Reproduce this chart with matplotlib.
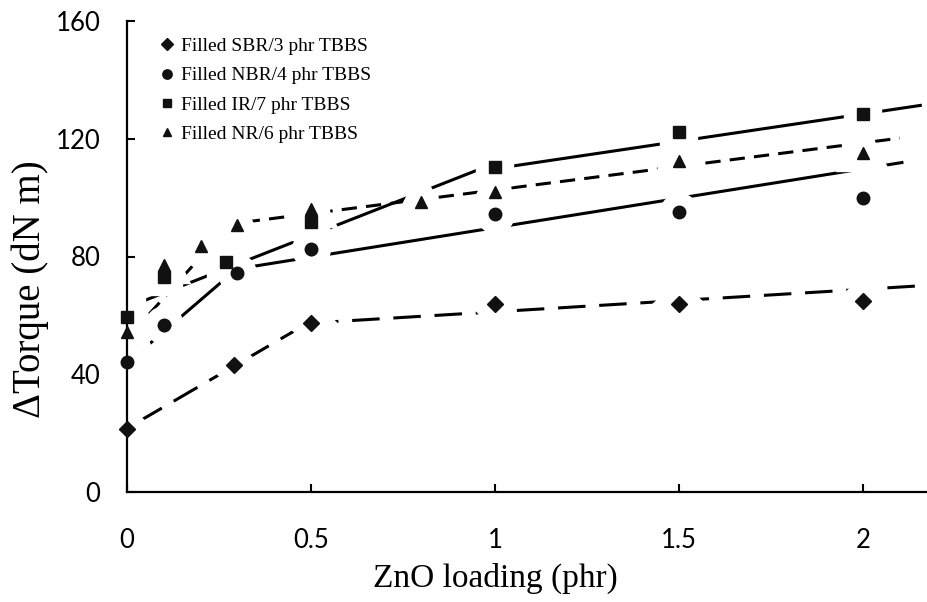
"""
Delta torque vs ZnO loading for four filled rubbers with TBBS.
Markers are measured points, lines are the two-part fits drawn in the paper.
Saves out.png
"""
import matplotlib
matplotlib.use('Agg')
import matplotlib.pyplot as plt

# measured points
sbr_x = [0, 0.29, 0.5, 1, 1.5, 2]
sbr_y = [21.5, 43, 57.5, 64, 64, 65]
nbr_x = [0, 0.1, 0.3, 0.5, 1, 1.5, 2]
nbr_y = [44, 56.7, 74.4, 82.5, 94.3, 95, 100]
ir_x = [0, 0.1, 0.27, 0.5, 1, 1.5, 2]
ir_y = [59.5, 73, 78, 91.7, 110.4, 122.3, 128.4]
nr_x = [0, 0.1, 0.2, 0.3, 0.5, 0.8, 1, 1.5, 2]
nr_y = [54.5, 77, 83.5, 90.8, 96, 98.6, 102, 112.5, 115]

# fitted line segments: (x0, x1), (y0, y1) for each piece
sbr_fit = [((0.03, 0.5), (23.8, 58)), ((0.5, 2.15), (57.4, 70))]
nbr_fit = [((0.02, 0.29), (45.9, 74.9)), ((0.33, 2.11), (76.4, 112))]
ir_fit = [((0.03, 0.99), (64.2, 111.2)), ((1.03, 2.16), (110.4, 131.4))]
nr_fit = [((0.016, 0.29), (54.3, 92.3)), ((0.32, 2.1), (91.7, 120.2))]

labels = ['Filled SBR/3 phr TBBS', 'Filled NBR/4 phr TBBS',
          'Filled IR/7 phr TBBS', 'Filled NR/6 phr TBBS']

series = [
    (sbr_x, sbr_y, sbr_fit, 'D', 8, (9, 4.5)),
    (nbr_x, nbr_y, nbr_fit, 'o', 9, None),
    (ir_x, ir_y, ir_fit, 's', 8.5, None),
    (nr_x, nr_y, nr_fit, '^', 8.5, (5, 3)),
]

fig = plt.figure(figsize=(9.27, 6.02), dpi=100, facecolor='white')
ax = fig.add_axes([127/927, 110/602, 800/927, 471/602])

for (x, y, fit, mk, ms, dash), lab in zip(series, labels):
    for (fx, fy) in fit:
        ln, = ax.plot(fx, fy, color='black', lw=2.2, zorder=2,
                      solid_capstyle='butt', dash_capstyle='butt')
        if dash:
            ln.set_dashes(dash)
    # white halo around markers, cuts the fit lines like the original
    ax.plot(x, y, ls='none', marker=mk, ms=ms, mfc='white', mec='white',
            mew=19, zorder=2.3)

for (x, y, fit, mk, ms, dash), lab in zip(series, labels):
    ax.plot(x, y, ls='none', marker=mk, ms=ms, color='#111111',
            mec='#111111', label=lab, zorder=3, clip_on=False)

ax.set_xlim(0, 2.174)
ax.set_ylim(0, 160)
ax.set_xticks([0, 0.5, 1, 1.5, 2])
ax.set_xticklabels(['0', '0.5', '1', '1.5', '2'])
ax.set_yticks([0, 40, 80, 120, 160])

for s in ['top', 'right']:
    ax.spines[s].set_visible(False)
for s in ['left', 'bottom']:
    ax.spines[s].set_linewidth(1.6)
    ax.spines[s].set_zorder(2.5)

ax.tick_params(direction='in', length=6, width=1.5, labelsize=18.5)
ax.tick_params(axis='x', pad=26)
ax.tick_params(axis='y', pad=19)
for t in ax.get_xticklabels() + ax.get_yticklabels():
    t.set_family('Lato')

ax.set_xlabel('ZnO loading (phr)', family='Liberation Serif', fontsize=24,
              va='center')
ax.xaxis.set_label_coords(0.461, -0.183)
ax.set_ylabel('ΔTorque (dN m)', family='Liberation Serif', fontsize=28,
              va='center')
ax.yaxis.set_label_coords(-0.121, 0.431)

ax.legend(loc='upper left', bbox_to_anchor=(0.04, 0.965), frameon=False,
          prop={'family': 'Liberation Serif', 'size': 14}, markerscale=0.75,
          handlelength=0.8, handletextpad=0.35, labelspacing=0.6,
          borderaxespad=0, borderpad=0)

plt.savefig('out.png', dpi=100, facecolor='white')
